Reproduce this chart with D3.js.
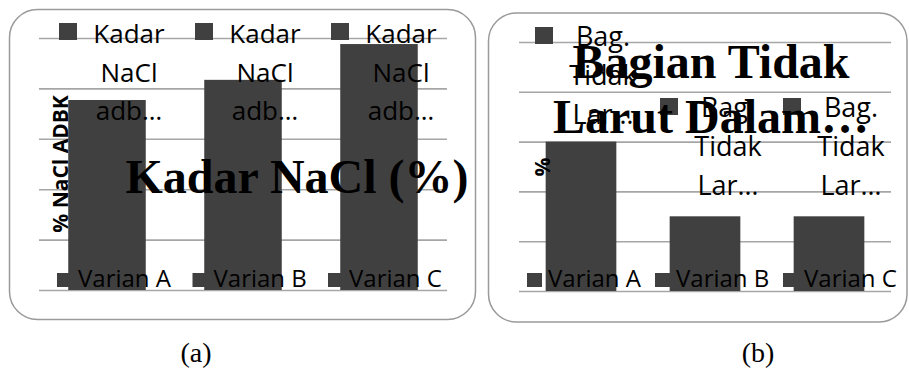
<!DOCTYPE html>
<html><head><meta charset="utf-8">
<script src="https://cdn.jsdelivr.net/npm/d3@7/dist/d3.min.js"></script>
<style>
html,body{margin:0;padding:0;background:#fff;}
svg{display:block;}
</style></head>
<body>
<svg id="chart" width="909" height="371"></svg>
<script>
// ---- data ----
const categories = ["Varian A", "Varian B", "Varian C"];
const valuesA = [3.77, 4.17, 4.88];          // Kadar NaCl (%)
const valuesB = [3.0, 1.5, 1.5];             // Bagian Tidak Larut Dalam...
const tickValues = [0, 1, 2, 3, 4, 5];
const seriesLinesA = ["Kadar", "NaCl", "adb…"];
const seriesLinesB = ["Bag.", "Tidak", "Lar…"];
const titleA = ["Kadar NaCl (%)"];
const titleB = ["Bagian Tidak", "Larut Dalam…"];
const yTitleA = "% NaCl ADBK";
const yTitleB = "%";
const captions = ["(a)", "(b)"];

const BAR = "#404040", GRID = "#a6a6a6", FRAME = "#9a9a9a";
const svg = d3.select("#chart");
svg.append("rect").attr("width", 909).attr("height", 371).attr("fill", "#fff");

function panel(cfg) {
  const g = svg.append("g");
  g.append("rect").attr("x", cfg.frame[0]).attr("y", cfg.frame[1])
    .attr("width", cfg.frame[2]).attr("height", cfg.frame[3])
    .attr("rx", 28).attr("ry", 28)
    .attr("fill", "#fff").attr("stroke", FRAME).attr("stroke-width", 1.5);

  const x = d3.scaleBand().domain(categories).range(cfg.xr)
    .paddingInner(0.43).paddingOuter(0.215);
  const y = d3.scaleLinear().domain([0, 5]).range(cfg.yr);

  // gridlines
  const ax = d3.axisLeft(y).tickValues(tickValues)
    .tickSize(-(cfg.xr[1] - cfg.xr[0])).tickFormat("");
  const ag = g.append("g").attr("transform", `translate(${cfg.xr[0]},0)`).call(ax);
  ag.select(".domain").remove();
  ag.selectAll(".tick line").attr("stroke", GRID).attr("stroke-width", 1.6);

  // bars
  g.selectAll("rect.bar").data(cfg.values).enter().append("rect")
    .attr("class", "bar")
    .attr("x", (d, i) => x(categories[i]))
    .attr("width", x.bandwidth())
    .attr("y", d => y(d))
    .attr("height", d => y(0) - y(d))
    .attr("fill", BAR);

  // top legend (series name, wrapped/truncated)
  cfg.topLegend.forEach(p => {
    g.append("rect").attr("x", p[0]).attr("y", p[1])
      .attr("width", 18).attr("height", 17).attr("fill", BAR);
    const t = g.append("text").attr("font-family", "'Open Sans', sans-serif")
      .attr("font-size", cfg.legFont).attr("fill", "#000")
      .attr("text-anchor", "middle");
    cfg.seriesLines.forEach((s, k) => {
      t.append("tspan").attr("x", p[0] + cfg.textOff)
        .attr("y", p[1] + cfg.firstBase + k * cfg.lineH).text(s);
    });
  });

  // bottom legend (categories)
  categories.forEach((c, i) => {
    const lx = cfg.botX + i * cfg.botStep;
    g.append("rect").attr("x", lx).attr("y", 273)
      .attr("width", 15).attr("height", 14).attr("fill", BAR);
    g.append("text").attr("x", lx + 21).attr("y", 287)
      .attr("font-family", "'Open Sans', sans-serif").attr("font-size", 24)
      .attr("fill", "#000").text(c);
  });

  // y title
  g.append("text").attr("transform", `translate(${cfg.yT[0]},${cfg.yT[1]}) rotate(-90)`)
    .attr("text-anchor", "middle").attr("font-family", "'Open Sans', sans-serif")
    .attr("font-weight", "bold").attr("font-size", 21).attr("fill", "#000")
    .text(cfg.yTitle);

  // chart title
  const tt = g.append("text").attr("font-family", "'Liberation Serif', 'Times New Roman', serif")
    .attr("font-weight", "bold").attr("font-size", 48).attr("fill", "#000")
    .attr("text-anchor", "middle");
  cfg.title.forEach((s, k) => {
    tt.append("tspan").attr("x", cfg.titlePos[0]).attr("y", cfg.titlePos[1] + k * 55).text(s);
  });

  // caption
  svg.append("text").attr("x", cfg.cap).attr("y", 362).attr("text-anchor", "middle")
    .attr("font-family", "'Liberation Serif', 'Times New Roman', serif")
    .attr("font-size", 28).attr("fill", "#000").text(cfg.capText);
}

panel({
  frame: [9.5, 9.5, 466, 310], xr: [39, 447], yr: [290, 38],
  values: valuesA, seriesLines: seriesLinesA,
  topLegend: [[59, 23], [195, 23], [331, 23]], textOff: 70, firstBase: 20, lineH: 38.5, legFont: 26,
  botX: 57, botStep: 135.5,
  yT: [68, 164], yTitle: yTitleA,
  title: titleA, titlePos: [297, 193],
  cap: 196, capText: captions[0]
});
panel({
  frame: [488.5, 13, 418.5, 309], xr: [519, 891], yr: [291, 42],
  values: valuesB, seriesLines: seriesLinesB,
  topLegend: [[535, 27], [660, 98], [783, 98]], textOff: 68, firstBase: 19, lineH: 39, legFont: 27,
  botX: 527, botStep: 128,
  yT: [550, 167], yTitle: yTitleB,
  title: titleB, titlePos: [711, 78],
  cap: 758, capText: captions[1]
});
</script>
</body></html>
